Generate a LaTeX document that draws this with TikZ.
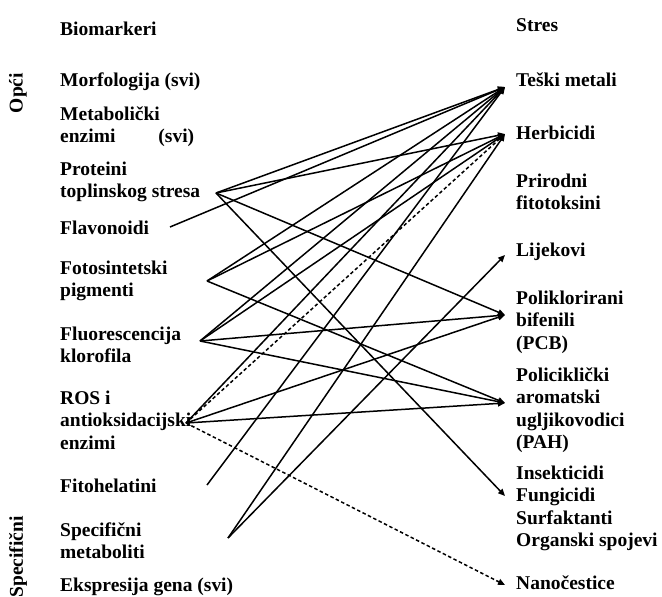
\documentclass[tikz,border=0pt]{standalone}
\usepackage{fontspec}
\setmainfont{Liberation Serif}
\usetikzlibrary{arrows.meta}
\begin{document}
\begin{tikzpicture}[x=1pt,y=-1pt,
  txt/.style={anchor=north west,inner sep=0pt,align=left,
    font=\fontsize{19.5}{22.4}\selectfont\bfseries,execute at begin node=\strut},
  side/.style={inner sep=0pt,rotate=90,font=\fontsize{19.5}{22}\selectfont\bfseries},
  link/.style={line width=1.5pt,-{Triangle[length=7pt,width=6pt]}},
  dlink/.style={link,dash pattern=on 3.5pt off 2.5pt}]
\useasboundingbox (0,0) rectangle (662,597);
% left column
\node[txt] (bio) at (60,19.6) {Biomarkeri};
\node[side] (opci) at (18,93) {Opći};
\node[side] (spec) at (18,557) {Specifični};
\node[txt] (morf) at (60,70.6) {Morfologija (svi)};
\node[txt] (meta) at (60,106.6) {Metabolički\\enzimi\hspace{43pt}(svi)};
\node[txt] (prot) at (60,161.6) {Proteini\\toplinskog stresa};
\node[txt] (flav) at (60,218.6) {Flavonoidi};
\node[txt] (foto) at (60,260.6) {Fotosintetski\\pigmenti};
\node[txt] (fluo) at (60,326.6) {Fluorescencija\\klorofila};
\node[txt] (ros) at (60,390.6) {ROS i\\antioksidacijski\\enzimi};
\node[txt] (fito) at (60,476.6) {Fitohelatini};
\node[txt] (smet) at (60,522.6) {Specifični\\metaboliti};
\node[txt] (eksp) at (60,575.6) {Ekspresija gena (svi)};
% right column
\node[txt] (stres) at (516,15.6) {Stres};
\node[txt] (tes) at (516,70.6) {Teški metali};
\node[txt] (her) at (516,123.6) {Herbicidi};
\node[txt] (pri) at (516,173.6) {Prirodni\\fitotoksini};
\node[txt] (lij) at (516,240.6) {Lijekovi};
\node[txt] (pcb) at (516,290.6) {Poliklorirani\\bifenili\\(PCB)};
\node[txt] (pah) at (516,367.6) {Policiklički\\aromatski\\ugljikovodici\\(PAH)};
\node[txt] (ins) at (516,465.6) {Insekticidi\\Fungicidi\\Surfaktanti\\Organski spojevi};
\node[txt] (nano) at (516,573.6) {Nanočestice};
% connection points
\coordinate (sP) at (216,193);
\coordinate (sFl) at (170,227);
\coordinate (sFo) at (207,281);
\coordinate (sFc) at (200,341);
\coordinate (sR) at (186,423);
\coordinate (sFh) at (207,485);
\coordinate (sS) at (228,538);
\coordinate (tT) at (505,87);
\coordinate (tH) at (505,134);
\coordinate (tL) at (505,255);
\coordinate (tPCB) at (505,315);
\coordinate (tPAH) at (505,403);
\coordinate (tI) at (505,496);
\coordinate (tN) at (505,585);
% connectors
\draw[link] (sP) -- (tT);
\draw[link] (sP) -- (tH);
\draw[link] (sP) -- (tPCB);
\draw[link] (sP) -- (tI);
\draw[link] (sFl) -- (tT);
\draw[link] (sFo) -- (tT);
\draw[link] (sFo) -- (tH);
\draw[link] (sFo) -- (tPAH);
\draw[link] (sFc) -- (tT);
\draw[link] (sFc) -- (tH);
\draw[link] (sFc) -- (tPCB);
\draw[link] (sFc) -- (tPAH);
\draw[link] (sR) -- (tT);
\draw[dlink] (sR) -- (tH);
\draw[link] (sR) -- (tPCB);
\draw[link] (sR) -- (tPAH);
\draw[dlink] (sR) -- (tN);
\draw[link] (sFh) -- (tT);
\draw[link] (sS) -- (tH);
\draw[link] (sS) -- (tL);
\end{tikzpicture}
\end{document}
